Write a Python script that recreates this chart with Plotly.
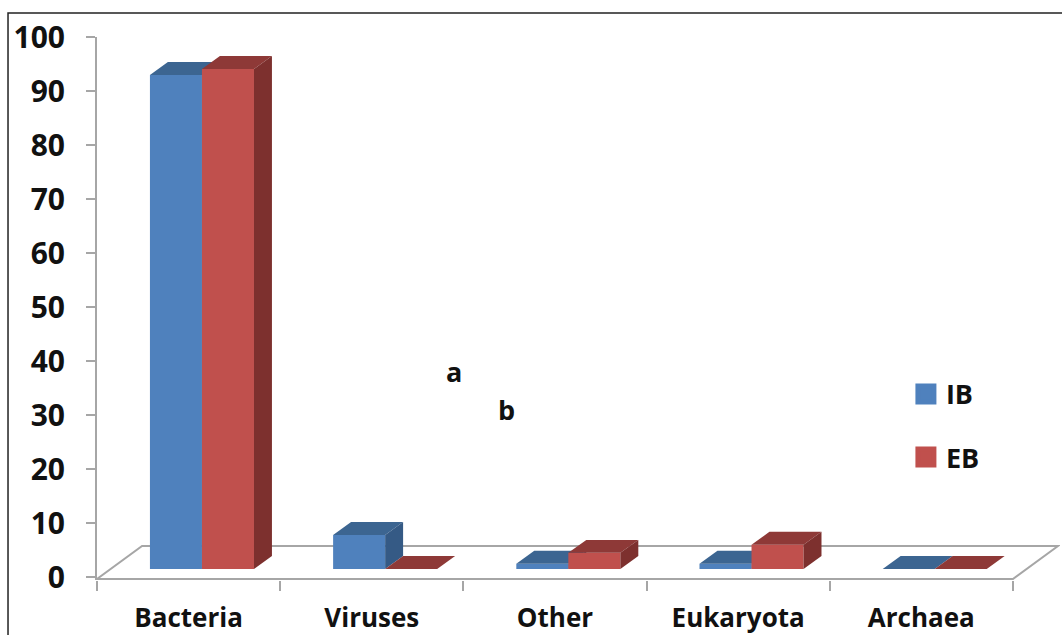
import plotly.graph_objects as go

categories = ["Bacteria", "Viruses", "Other", "Eukaryota", "Archaea"]
ib_values = [91.5, 6.3, 1.0, 1.0, 0.0]
eb_values = [92.6, 0.0, 3.0, 4.5, 0.0]
y_ticks = list(range(0, 101, 10))

FONT = "Open Sans, Lato, sans-serif"
TXT = "#111111"
GRID = "#a6a6a6"
BASE = 1.48      # bars stand in the middle of the floor's depth
DX, DY = 0.098, 2.4   # oblique depth of the 3D columns, in axis units
BAR_W = 0.284
X_RANGE = [0, 5.257]
Y_RANGE = [-0.55, 100]
centers = [i + 0.5 for i in range(len(categories))]


def faces(values, offset):
    top_x, top_y, side_x, side_y = [], [], [], []
    for c, v in zip(centers, values):
        x0 = c + offset
        x1 = x0 + BAR_W
        y = BASE + v
        top_x += [x0, x1, x1 + DX, x0 + DX, x0, None]
        top_y += [y, y, y + DY, y + DY, y, None]
        if v > 0:
            side_x += [x1, x1 + DX, x1 + DX, x1, x1, None]
            side_y += [BASE, BASE + DY, y + DY, y, BASE, None]
    return top_x, top_y, side_x, side_y


def poly(x, y, color, xa, ya):
    return go.Scatter(x=x, y=y, mode="lines", fill="toself", fillcolor=color,
                      line=dict(width=0, color=color), hoverinfo="skip",
                      showlegend=False, xaxis=xa, yaxis=ya)


fig = go.Figure()
series = [
    ("IB", ib_values, -0.211, "#4f81bd", "#3c6591", "#355a85", "x", "y"),
    ("EB", eb_values, 0.073, "#c0504d", "#8e3937", "#7d302e", "x2", "y2"),
]
for name, vals, off, front, top, side, xa, ya in series:
    fig.add_trace(go.Bar(x=centers, y=vals, base=BASE, width=BAR_W, offset=off,
                         marker=dict(color=front, line=dict(width=0)),
                         name=name, showlegend=False, xaxis=xa, yaxis=ya))
    tx, ty, sx, sy = faces(vals, off)
    fig.add_trace(poly(tx, ty, top, xa, ya))
    fig.add_trace(poly(sx, sy, side, xa, ya))
    fig.add_trace(go.Scatter(x=[None], y=[None], mode="markers", name=name,
                             legendgroup=name,
                             marker=dict(symbol="square", size=16, color=front,
                                         line=dict(width=5, color=front)),
                             xaxis=xa, yaxis=ya))

fig.update_layout(
    width=1062, height=635, autosize=False,
    margin=dict(l=97, r=2, t=37, b=55, pad=0),
    paper_bgcolor="white", plot_bgcolor="white",
    barmode="overlay",
    font=dict(family=FONT, size=24, color=TXT),
    legend=dict(x=0.84, y=0.387, xanchor="left", yanchor="top",
                tracegroupgap=25, font=dict(family=FONT, size=27, color=TXT, weight="bold"),
                bgcolor="rgba(0,0,0,0)", itemwidth=30),
    xaxis=dict(range=X_RANGE, tickmode="array", tickvals=list(range(6)), ticktext=[""] * 6,
               ticks="outside", ticklen=10, tickwidth=2, tickcolor=GRID, automargin=False,
               showgrid=False, zeroline=False, showline=False),
    yaxis=dict(range=Y_RANGE, tickmode="array", tickvals=y_ticks, automargin=False,
               ticks="outside", ticklen=9, tickwidth=2, tickcolor=GRID, ticklabelstandoff=15,
               showgrid=False, zeroline=False, showline=True, linecolor=GRID, linewidth=2,
               tickfont=dict(family=FONT, size=30, color=TXT, weight="bold")),
    xaxis2=dict(range=X_RANGE, overlaying="x", anchor="y2", tickmode="array", automargin=False,
                tickvals=centers, ticktext=categories, ticks="outside", ticklen=15,
                tickcolor="rgba(0,0,0,0)", showgrid=False, zeroline=False, showline=False,
                tickfont=dict(family=FONT, size=26, color=TXT, weight="bold")),
    yaxis2=dict(range=Y_RANGE, overlaying="y", visible=False, automargin=False),
)

# floor of the 3D chart
floor_x = [0, 5, 5.246, 0.246]
floor_y = [-0.37, -0.37, 5.74, 5.74]
path = "M " + " L ".join(f"{a},{b}" for a, b in zip(floor_x, floor_y)) + " Z"
fig.add_shape(type="path", path=path, xref="x", yref="y", layer="below",
              line=dict(color=GRID, width=2), fillcolor="white")

# chart frame (left and top edges, running off the right side)
fig.add_shape(type="path", xref="paper", yref="paper", layer="below",
              path="M -0.0924,-0.11 L -0.0924,1.0443 L 1.003,1.0443",
              line=dict(color="#222222", width=1.5))

for text, x, y in [("a", 1.949, 38.0), ("b", 2.233, 31.1)]:
    fig.add_annotation(x=x, y=y, xref="x", yref="y", text=text, showarrow=False,
                       font=dict(family=FONT, size=27, color=TXT, weight="bold"))

fig.write_html("out.html", post_script="document.body.style.margin='0';",
               config=dict(displayModeBar=False))
